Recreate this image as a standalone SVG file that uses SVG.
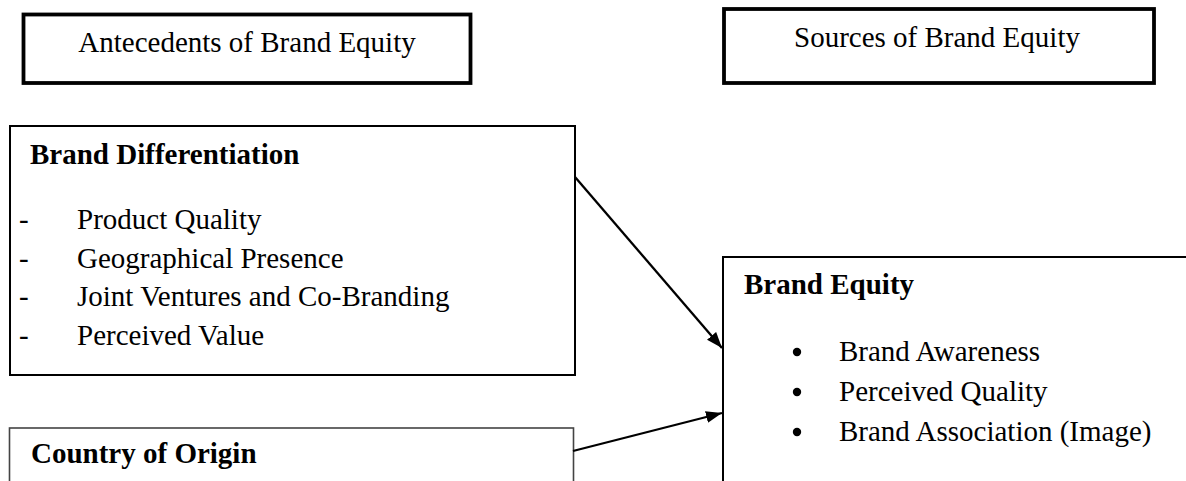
<svg xmlns="http://www.w3.org/2000/svg" width="1186" height="481" viewBox="0 0 1186 481">
  <style>
    .t { font-family: "Liberation Serif", "Times New Roman", serif; font-size: 29px; fill: #000; }
    .b { font-weight: bold; }
    .hdr { fill: #fff; stroke: #000; stroke-width: 3.8; }
    .box { fill: #fff; stroke: #000; stroke-width: 2; }
    .box2 { fill: #fff; stroke: #444; stroke-width: 1.6; }
    .conn { stroke: #000; stroke-width: 2.3; fill: none; marker-end: url(#arrow); }
  </style>
  <defs>
    <marker id="arrow" markerUnits="userSpaceOnUse" markerWidth="18" markerHeight="14" refX="16" refY="6" orient="auto">
      <path d="M0,0 L16,6 L0,12 Z" fill="#000"/>
    </marker>
  </defs>
  <rect width="1186" height="481" fill="#fff"/>

  <g id="antecedents">
    <rect class="hdr" x="23.5" y="14.5" width="447" height="68.5"/>
    <text class="t" x="247" y="52" text-anchor="middle">Antecedents of Brand Equity</text>
  </g>

  <g id="sources">
    <rect class="hdr" x="724" y="9" width="430" height="74"/>
    <text class="t" x="937" y="47" text-anchor="middle">Sources of Brand Equity</text>
  </g>

  <g id="brand-differentiation">
    <rect class="box" x="10" y="126" width="565" height="249"/>
    <text class="t b" x="30" y="164">Brand Differentiation</text>
    <text class="t" x="19" y="229">-</text>
    <text class="t" x="77" y="229">Product Quality</text>
    <text class="t" x="19" y="268">-</text>
    <text class="t" x="77" y="268">Geographical Presence</text>
    <text class="t" x="19" y="306">-</text>
    <text class="t" x="77" y="306">Joint Ventures and Co-Branding</text>
    <text class="t" x="19" y="345">-</text>
    <text class="t" x="77" y="345">Perceived Value</text>
  </g>

  <g id="country-of-origin">
    <rect class="box2" x="9.5" y="428" width="564" height="200"/>
    <text class="t b" x="31" y="463">Country of Origin</text>
  </g>

  <g id="brand-equity">
    <rect class="box" x="723" y="257" width="600" height="400"/>
    <text class="t b" x="744" y="294">Brand Equity</text>
    <circle cx="797" cy="352" r="4.2"/>
    <text class="t" x="839" y="361">Brand Awareness</text>
    <circle cx="797" cy="392" r="4.2"/>
    <text class="t" x="839" y="401">Perceived Quality</text>
    <circle cx="797" cy="432" r="4.2"/>
    <text class="t" x="839" y="441">Brand Association (Image)</text>
  </g>

  <g id="connectors">
    <line class="conn" x1="575" y1="177" x2="722" y2="348"/>
    <line class="conn" x1="573" y1="451" x2="722" y2="413"/>
  </g>
</svg>
